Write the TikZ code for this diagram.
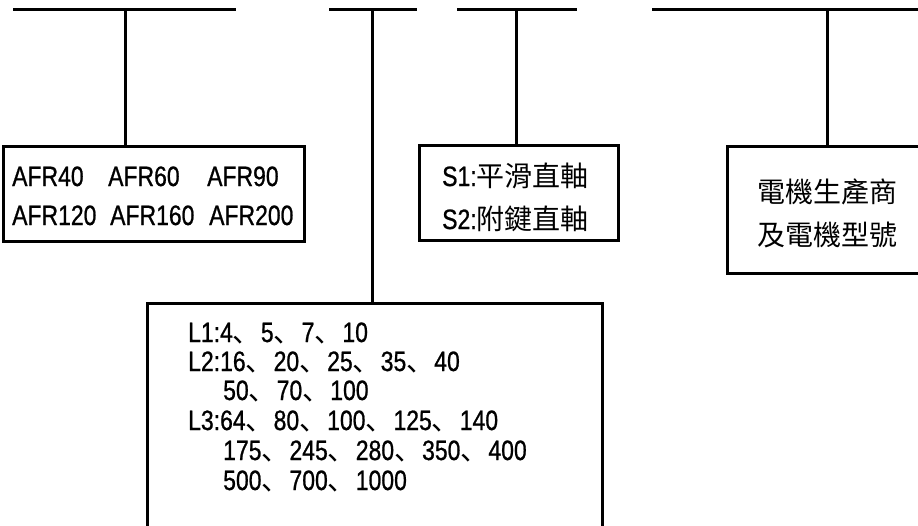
\documentclass[tikz,border=0pt]{standalone}
\usepackage{fontspec}
\setmainfont{Liberation Sans}[FakeStretch=0.82,FakeBold=0.8]
\newfontfamily\cjktc{Noto Sans CJK TC}
\newfontfamily\cjksc{Noto Sans CJK SC}
\newcommand\dun{{\cjksc 、}}
\begin{document}
\begin{tikzpicture}[x=1pt,y=-1pt,
  line/.style={line width=3pt,line cap=butt},
  boxnode/.style={draw,line width=3pt,rectangle,inner sep=0pt},
  txt/.style={inner sep=0pt,font=\fontsize{28}{30}\selectfont}]
\useasboundingbox (0,0) rectangle (918,525);
\clip (0,0) rectangle (918,525);
% bars
\coordinate (b1l) at (13,9.5);   \coordinate (b1r) at (236,9.5);   \coordinate (j1) at (125,9.5);
\coordinate (b2l) at (329,9.5);  \coordinate (b2r) at (417,9.5);   \coordinate (j2) at (372.5,9.5);
\coordinate (b3l) at (457,9.5);  \coordinate (b3r) at (577,9.5);   \coordinate (j3) at (516.7,9.5);
\coordinate (b4l) at (652,9.5);  \coordinate (b4r) at (930,9.5);   \coordinate (j4) at (827,9.5);
% boxes
\node[boxnode,minimum width=301pt,minimum height=95pt] (box1) at (153.5,193.5) {};
\node[boxnode,minimum width=199pt,minimum height=94.5pt] (boxs) at (518.5,193) {};
\node[boxnode,minimum width=200pt,minimum height=127pt] (box4) at (827,209.5) {};
\node[boxnode,minimum width=455pt,minimum height=260pt] (boxl) at (374.5,433) {};
% connectors
\draw[line] (b1l) -- (b1r);
\draw[line] (b2l) -- (b2r);
\draw[line] (b3l) -- (b3r);
\draw[line] (b4l) -- (b4r);
\draw[line] (j1) -- (j1 |- box1.north);
\draw[line] (j2) -- (j2 |- boxl.north);
\draw[line] (j3) -- (j3 |- boxs.north);
\draw[line] (j4) -- (j4 |- box4.north);
% box 1 texts
\node[txt,anchor=base west] (a1) at (12,186) {AFR40};
\node[txt,anchor=base west] (a2) at (108,186) {AFR60};
\node[txt,anchor=base west] (a3) at (207,186) {AFR90};
\node[txt,anchor=base west] (a4) at (12,225) {AFR120};
\node[txt,anchor=base west] (a5) at (110,225) {AFR160};
\node[txt,anchor=base west] (a6) at (209,225) {AFR200};
% box S texts
\node[txt,anchor=base west] (s1) at (442,186) {S1:{\cjktc 平滑直軸}};
\node[txt,anchor=base west] (s2) at (442,229) {S2:{\cjktc 附鍵直軸}};
% box 4 texts
\node[txt,anchor=base] (m1) at (827,202) {\cjktc 電機生產商};
\node[txt,anchor=base] (m2) at (827,245) {\cjktc 及電機型號};
% box L texts
\node[txt,anchor=base west] (l1) at (188,342) {L1:4\dun 5\dun 7\dun 10};
\node[txt,anchor=base west] (l2) at (188,371) {L2:16\dun 20\dun 25\dun 35\dun 40};
\node[txt,anchor=base west] (l3) at (223,400) {50\dun 70\dun 100};
\node[txt,anchor=base west] (l4) at (188,430) {L3:64\dun 80\dun 100\dun 125\dun 140};
\node[txt,anchor=base west] (l5) at (223,460) {175\dun 245\dun 280\dun 350\dun 400};
\node[txt,anchor=base west] (l6) at (223,490) {500\dun 700\dun 1000};
\end{tikzpicture}
\end{document}
